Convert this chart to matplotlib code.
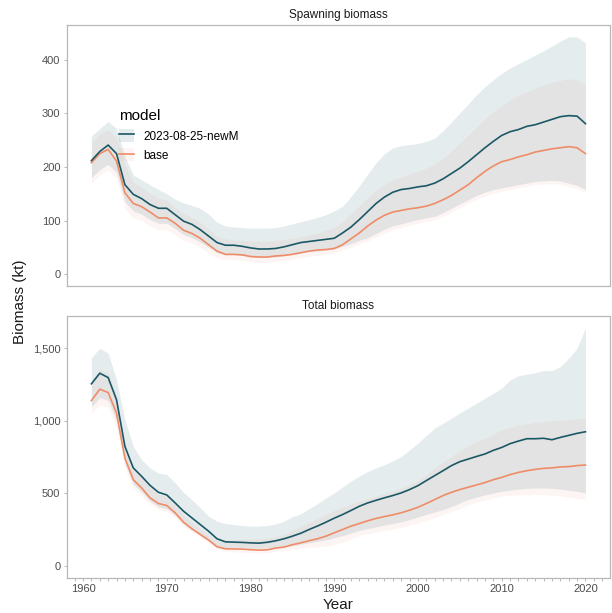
import numpy as np
import matplotlib
matplotlib.use("Agg")
import matplotlib.pyplot as plt
from matplotlib.lines import Line2D
from matplotlib.patches import Patch
from matplotlib.ticker import FuncFormatter, MultipleLocator

plt.rcParams["font.family"] = ["Liberation Sans", "DejaVu Sans"]

years = np.arange(1961, 2021)
models = ["2023-08-25-newM", "base"]

# Spawning biomass (kt)
sb_newm = [212, 229, 241, 225, 167, 149, 141, 130, 123, 123,
           111, 99, 93, 83, 71, 59, 54, 54, 52, 49,
           47, 47, 48, 51, 55, 59, 61, 63, 65, 67,
           77, 88, 102, 117, 132, 144, 153, 158, 160, 163,
           165, 170, 178, 188, 198, 210, 223, 236, 248, 259,
           266, 270, 276, 279, 284, 289, 294, 296, 295, 281]
sb_newm_lo = [180, 195, 205, 190, 135, 118, 112, 102, 95, 95,
              85, 74, 68, 60, 50, 40, 36, 36, 35, 32,
              31, 31, 32, 34, 37, 40, 42, 43, 45, 47,
              52, 57, 63, 68, 76, 84, 90, 94, 98, 102,
              105, 108, 115, 123, 131, 139, 147, 153, 158, 161,
              164, 167, 170, 173, 174, 175, 174, 170, 166, 158]
sb_newm_hi = [258, 272, 285, 272, 220, 185, 176, 167, 158, 150,
              140, 133, 128, 123, 112, 97, 90, 88, 87, 86,
              86, 86, 87, 90, 94, 98, 102, 106, 111, 118,
              127, 145, 165, 187, 208, 225, 236, 240, 242, 244,
              248, 254, 268, 284, 301, 318, 335, 350, 363, 375,
              385, 393, 401, 409, 417, 426, 435, 443, 443, 432]
sb_base = [208, 225, 233, 211, 152, 132, 126, 116, 105, 105,
           95, 82, 76, 67, 55, 43, 37, 37, 36, 33,
           32, 32, 34, 35, 37, 40, 43, 45, 46, 48,
           55, 66, 77, 90, 101, 110, 116, 119, 122, 124,
           127, 132, 139, 147, 157, 167, 180, 192, 202, 210,
           214, 219, 223, 228, 231, 234, 236, 238, 236, 225]
sb_base_lo = [170, 185, 195, 178, 122, 105, 100, 90, 83, 83,
              73, 63, 58, 50, 40, 30, 27, 27, 26, 23,
              22, 22, 24, 26, 28, 31, 33, 35, 37, 40,
              45, 50, 56, 62, 69, 77, 83, 87, 91, 95,
              98, 101, 108, 116, 124, 132, 140, 146, 151, 155,
              158, 161, 164, 167, 168, 169, 168, 164, 160, 152]
sb_base_hi = [245, 262, 270, 255, 205, 172, 162, 152, 142, 138,
              125, 113, 106, 97, 85, 70, 66, 64, 63, 62,
              62, 62, 63, 65, 67, 70, 73, 77, 82, 87,
              98, 113, 128, 143, 157, 168, 176, 182, 187, 192,
              198, 206, 217, 230, 245, 260, 275, 290, 303, 315,
              325, 334, 341, 348, 353, 358, 362, 365, 363, 354]

# Total biomass (kt)
tb_newm = [1255, 1328, 1298, 1145, 824, 676, 618, 556, 508, 490,
           435, 378, 332, 286, 240, 188, 167, 165, 163, 160,
           158, 164, 174, 188, 206, 226, 252, 276, 302, 330,
           355, 383, 412, 435, 453, 470, 486, 504, 527, 554,
           589, 623, 657, 692, 719, 737, 755, 772, 797, 817,
           843, 861, 877, 877, 880, 870, 886, 900, 914, 925]
tb_newm_lo = [1095, 1160, 1140, 1000, 705, 565, 510, 448, 408, 395,
              350, 292, 250, 212, 175, 135, 126, 126, 125, 123,
              122, 124, 128, 132, 140, 150, 160, 170, 180, 195,
              210, 228, 245, 258, 270, 282, 293, 305, 320, 338,
              356, 372, 389, 410, 435, 458, 475, 490, 503, 515,
              523, 530, 535, 538, 538, 535, 530, 522, 514, 504]
tb_newm_hi = [1436, 1500, 1466, 1282, 1008, 824, 733, 676, 641, 630,
              573, 508, 458, 401, 343, 309, 293, 286, 280, 275,
              275, 280, 290, 309, 340, 360, 395, 430, 468, 504,
              545, 584, 620, 652, 676, 698, 725, 755, 800, 847,
              900, 950, 985, 1019, 1055, 1088, 1122, 1157, 1190, 1225,
              1282, 1310, 1322, 1332, 1346, 1346, 1374, 1431, 1500, 1640]
tb_base = [1140, 1218, 1195, 1053, 744, 595, 538, 470, 431, 417,
           367, 302, 257, 218, 179, 133, 119, 118, 117, 113,
           110, 112, 124, 131, 147, 160, 175, 188, 206, 229,
           252, 275, 293, 312, 328, 341, 353, 367, 385, 405,
           431, 458, 486, 508, 527, 543, 559, 575, 595, 611,
           630, 645, 657, 666, 673, 676, 683, 685, 692, 696]
tb_base_lo = [1050, 1110, 1090, 950, 670, 540, 485, 425, 388, 378,
              333, 275, 234, 197, 160, 118, 100, 98, 95, 92,
              90, 92, 100, 106, 115, 122, 128, 132, 137, 145,
              165, 188, 210, 222, 233, 244, 254, 266, 282, 298,
              315, 332, 354, 375, 395, 424, 440, 455, 468, 481,
              486, 490, 492, 493, 492, 488, 482, 474, 466, 458]
tb_base_hi = [1275, 1355, 1330, 1175, 850, 680, 615, 540, 495, 480,
              425, 352, 302, 258, 213, 175, 180, 182, 185, 185,
              186, 192, 202, 218, 245, 272, 300, 328, 356, 384,
              408, 428, 447, 465, 482, 500, 518, 538, 560, 590,
              630, 676, 718, 755, 795, 830, 858, 880, 910, 939,
              955, 970, 980, 990, 996, 1000, 1005, 1010, 1015, 1019]

col_newm = "#1b5866"
col_base = "#ef8c68"
grid_col = "#b8b8b8"
text_col = "#4d4d4d"
alpha_newm = 0.11
alpha_base = 0.08

fig = plt.figure(figsize=(6.12, 6.13), dpi=100)
ax1 = fig.add_axes([0.109, 0.5334, 0.888, 0.4258])
ax2 = fig.add_axes([0.109, 0.0571, 0.888, 0.4274])

panels = [
    (ax1, "Spawning biomass",
     [(sb_base, sb_base_lo, sb_base_hi), (sb_newm, sb_newm_lo, sb_newm_hi)]),
    (ax2, "Total biomass",
     [(tb_base, tb_base_lo, tb_base_hi), (tb_newm, tb_newm_lo, tb_newm_hi)]),
]

for ax, title, series in panels:
    cols = [col_base, col_newm]
    alphas = [alpha_base, alpha_newm]
    for (mid, lo, hi), c, a in zip(series, cols, alphas):
        ax.fill_between(years, lo, hi, color=c, alpha=a, linewidth=0)
    for (mid, lo, hi), c in zip(series, cols):
        ax.plot(years, mid, color=c, linewidth=1.2)
    top = max(max(s[2]) for s in series)
    ax.set_ylim(-0.05 * top, 1.05 * top)
    ax.set_xlim(1958.05, 2022.95)
    ax.set_title(title, fontsize=8.5, color="#1a1a1a", pad=5)
    for sp in ax.spines.values():
        sp.set_color(grid_col)
        sp.set_linewidth(0.9)
    ax.tick_params(axis="y", length=2.5, width=0.7, color=grid_col,
                   labelcolor=text_col, labelsize=8, pad=2)
    ax.yaxis.set_major_formatter(FuncFormatter(lambda v, p: f"{v:,.0f}"))

ax1.yaxis.set_major_locator(MultipleLocator(100))
ax2.yaxis.set_major_locator(MultipleLocator(500))
ax1.tick_params(axis="x", bottom=False, labelbottom=False)

ax2.xaxis.set_major_locator(MultipleLocator(10))
ax2.xaxis.set_minor_locator(MultipleLocator(1))
ax2.tick_params(axis="x", which="both", length=2.5, width=0.7, color=grid_col,
                labelcolor=text_col, labelsize=8, pad=2)

fig.text(0.033, 0.508, "Biomass (kt)", rotation=90, ha="center", va="center",
         fontsize=11, color="#1a1a1a")
fig.text(0.552, 0.013, "Year", ha="center", va="center", fontsize=11, color="#1a1a1a")

handles = [
    (Patch(facecolor=col_newm, alpha=alpha_newm, linewidth=0),
     Line2D([], [], color=col_newm, linewidth=1.2)),
    (Patch(facecolor=col_base, alpha=alpha_base, linewidth=0),
     Line2D([], [], color=col_base, linewidth=1.2)),
]
leg = ax1.legend(handles, models, title="model", loc="upper left",
                 bbox_to_anchor=(0.085, 0.7), frameon=False, fontsize=8.5,
                 title_fontsize=11, handlelength=1.3, handleheight=1.3,
                 handletextpad=0.8, labelspacing=0.5, borderpad=0,
                 alignment="left")

fig.savefig("out.png", dpi=100)
